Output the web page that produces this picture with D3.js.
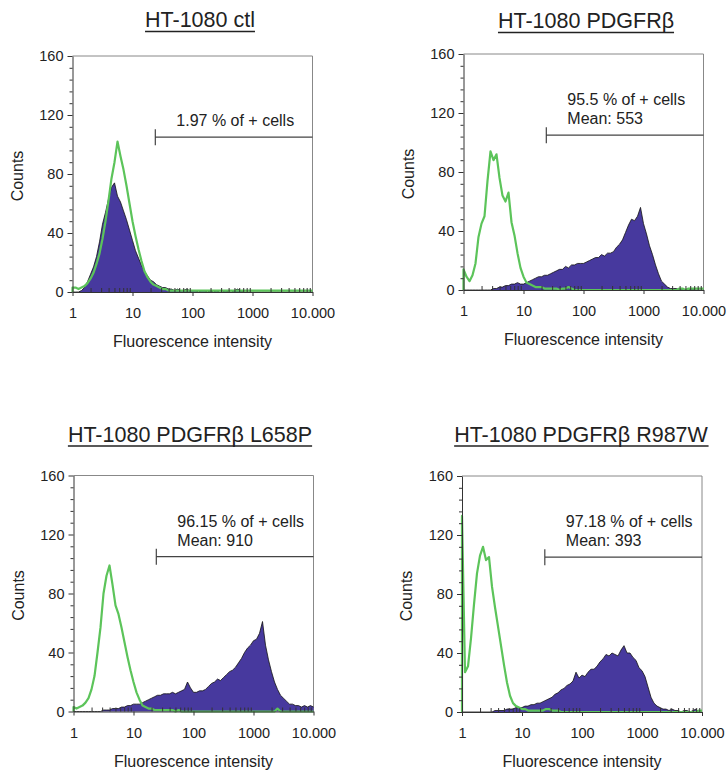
<!DOCTYPE html>
<html>
<head>
<meta charset="utf-8">
<script src="https://cdn.jsdelivr.net/npm/d3@7"></script>
<style>
  body { margin: 0; background: #fff; }
  svg { font-family: "Liberation Sans", Arial, sans-serif; }
</style>
</head>
<body>
<div class="chart"></div>
<script>
const svgWidth = 727
const svgHeight = 773

// histogram channels: log10 of the intensity, 0.05 apart (1 .. 10.000)
const logBins = d3.range(81).map(i => i * 0.05)

const xTicks = [1, 10, 100, 1000, 10000]
const xTickLabels = ["1", "10", "100", "1000", "10.000"]
const yTicks = [0, 40, 80, 120, 160]

const titles = ["HT-1080 ctl", "HT-1080 PDGFRβ", "HT-1080 PDGFRβ L658P", "HT-1080 PDGFRβ R987W"]
const percentLabels = ["1.97 % of + cells", "95.5 % of + cells", "96.15 % of + cells", "97.18 % of + cells"]
const meanLabels = [null, "Mean: 553", "Mean: 910", "Mean: 393"]

// marker gate: starts at intensity 24, drawn at 105 counts
const gateStart = 24
const gateCount = 105

// filled (stained) histograms
const ctlFill = [0, 0, 0, 1, 3, 7, 12, 17, 24, 34,
  46, 54, 63, 71, 74, 65, 61, 55, 49, 42,
  35, 28, 23, 18, 14, 11, 8, 7, 5, 4,
  3, 3, 2, 2, 1, 2, 1, 1, 2, 1,
  1, 1, 0, 1, 1, 0, 1, 0, 1, 0,
  0, 1, 0, 0, 1, 2, 1, 0, 0, 0,
  0, 0, 0, 0, 0, 0, 0, 0, 0, 0,
  0, 0, 0, 0, 0, 0, 0, 0, 0, 0,
  0]
const pdgfrFill = [0, 0, 0, 0, 0, 0, 0, 0, 0, 0,
  1, 1, 2, 2, 3, 3, 4, 4, 5, 4,
  4, 5, 6, 7, 8, 9, 9, 10, 10, 11,
  12, 13, 14, 14, 16, 15, 17, 17, 18, 18,
  18, 19, 20, 21, 22, 22, 24, 23, 25, 25,
  26, 29, 31, 34, 39, 44, 48, 47, 50, 56,
  45, 38, 30, 24, 17, 11, 6, 4, 2, 1,
  1, 1, 0, 1, 0, 0, 1, 0, 0, 0,
  0]
const l658pFill = [0, 0, 0, 0, 0, 0, 0, 0, 0, 0,
  1, 1, 1, 2, 2, 2, 3, 3, 4, 4,
  5, 5, 5, 6, 7, 8, 9, 10, 11, 11,
  12, 12, 12, 13, 12, 13, 14, 15, 20, 16,
  13, 13, 14, 14, 15, 17, 19, 20, 22, 21,
  23, 25, 27, 28, 30, 33, 36, 40, 43, 45,
  48, 49, 53, 61, 45, 35, 27, 20, 15, 11,
  9, 7, 5, 5, 4, 4, 3, 4, 3, 4,
  3]
const r987wFill = [0, 0, 0, 0, 0, 0, 0, 0, 0, 0,
  0, 1, 1, 1, 1, 2, 2, 2, 3, 3,
  3, 4, 4, 5, 5, 6, 6, 7, 8, 9,
  10, 12, 13, 15, 16, 18, 19, 21, 27, 23,
  25, 24, 27, 29, 29, 31, 34, 36, 39, 38,
  40, 39, 38, 42, 45, 40, 40, 37, 35, 30,
  28, 24, 17, 10, 6, 4, 3, 2, 2, 1,
  2, 1, 1, 0, 1, 1, 0, 1, 2, 0,
  0]

// isotype control (green outline) histograms
const ctlLine = [3, 3, 2, 3, 4, 6, 9, 13, 19, 26,
  36, 48, 62, 77, 88, 102, 92, 83, 72, 60,
  48, 38, 29, 21, 14, 10, 7, 5, 4, 3,
  2, 2, 1, 1, 1, 1, 1, 1, 1, 1,
  1, 1, 1, 1, 1, 1, 1, 1, 1, 1,
  1, 1, 1, 1, 1, 1, 1, 1, 1, 1,
  1, 1, 1, 1, 1, 1, 1, 1, 1, 1,
  1, 1, 1, 1, 1, 1, 1, 1, 1, 1,
  1]
const pdgfrLine = [14, 9, 6, 10, 18, 36, 45, 50, 74, 94,
  88, 92, 76, 64, 60, 66, 46, 37, 25, 15,
  9, 5, 4, 3, 2, 2, 2, 1, 1, 1,
  1, 1, 0, 1, 1, 2, 1, 0, 0, 0,
  0, 0, 0, 0, 0, 0, 0, 0, 0, 0,
  0, 0, 0, 0, 0, 0, 0, 0, 0, 0,
  0, 0, 0, 0, 0, 0, 0, 0, 0, 0,
  0, 0, 1, 1, 0, 1, 1, 1, 1, 1,
  1]
const l658pLine = [3, 2, 3, 4, 6, 9, 15, 24, 40, 57,
  80, 92, 99, 86, 72, 66, 57, 47, 37, 28,
  20, 13, 8, 4, 3, 2, 2, 1, 1, 1,
  1, 1, 1, 1, 0, 1, 0, 0, 0, 0,
  0, 0, 0, 0, 0, 0, 0, 0, 0, 0,
  0, 0, 0, 0, 0, 0, 0, 0, 0, 0,
  0, 0, 0, 0, 0, 0, 0, 0, 2, 0,
  0, 0, 0, 0, 0, 0, 0, 0, 0, 0,
  0]
const r987wLine = [133, 27, 31, 50, 73, 94, 106, 112, 103, 105,
  85, 71, 58, 45, 32, 20, 11, 6, 4, 3,
  2, 2, 1, 1, 1, 1, 1, 1, 2, 2,
  1, 1, 1, 0, 0, 0, 0, 0, 0, 0,
  0, 0, 0, 0, 0, 0, 0, 0, 0, 0,
  0, 0, 0, 0, 0, 0, 0, 0, 0, 0,
  0, 0, 0, 0, 0, 0, 0, 0, 0, 0,
  0, 0, 0, 0, 0, 0, 0, 0, 0, 1,
  1]

const fills = [ctlFill, pdgfrFill, l658pFill, r987wFill]
const lines = [ctlLine, pdgfrLine, l658pLine, r987wLine]

// where each panel's plot area sits, and its title
const layout = [
  { left: 72.5, top: 56, titleX: 200, titleY: 27 },
  { left: 463.5, top: 54, titleX: 586, titleY: 28 },
  { left: 73.5, top: 475.5, titleX: 190, titleY: 441.5 },
  { left: 462, top: 476, titleX: 581, titleY: 441.5 }
]

const width = 240
const height = 236

const fillColor = "#47399e"
const lineColor = "#5cc45a"
const textColor = "#222"

let svg = d3.select(".chart")
  .append("svg")
  .attr("width", svgWidth)
  .attr("height", svgHeight)

let x = d3.scaleLog().domain([1, 10000]).range([0, width])
let y = d3.scaleLinear().domain([0, 160]).range([height, 0])

let minorX = x.ticks().filter(d => !xTicks.includes(d))
let minorY = d3.range(0, 161, 8).filter(d => !yTicks.includes(d))

// every histogram trace rises from the baseline at the first channel
function toPoints(values) {
  let pts = values.map((v, i) => [10 ** logBins[i], v])
  pts.unshift([10 ** logBins[0], 0])
  return pts
}

let area = d3.area()
  .x(d => x(d[0]))
  .y0(y(0))
  .y1(d => y(d[1]))

let outline = d3.line()
  .x(d => x(d[0]))
  .y(d => y(d[1]))

layout.forEach((pos, k) => {
  // title, underlined
  let title = svg.append("text")
    .attr("x", pos.titleX)
    .attr("y", pos.titleY)
    .attr("text-anchor", "middle")
    .attr("font-size", 21.5)
    .attr("fill", textColor)
    .text(titles[k])
  let box = title.node().getBBox()
  svg.append("line")
    .attr("x1", box.x).attr("x2", box.x + box.width)
    .attr("y1", pos.titleY + 4.5).attr("y2", pos.titleY + 4.5)
    .attr("stroke", textColor)
    .attr("stroke-width", 1.5)

  let g = svg.append("g")
    .attr("transform", `translate(${pos.left}, ${pos.top})`)

  // frame on top and right
  g.append("path")
    .attr("d", `M0,0H${width}V${height}`)
    .attr("fill", "none")
    .attr("stroke", "#888")
    .attr("stroke-width", 1)

  // stained histogram
  let filled = toPoints(fills[k])
  g.append("path")
    .datum(filled)
    .attr("d", area)
    .attr("fill", fillColor)
  g.append("path")
    .datum(filled)
    .attr("d", outline)
    .attr("fill", "none")
    .attr("stroke", "#111")
    .attr("stroke-width", 0.8)

  // control histogram
  g.append("path")
    .datum(toPoints(lines[k]))
    .attr("d", outline)
    .attr("fill", "none")
    .attr("stroke", lineColor)
    .attr("stroke-width", 2.2)
    .attr("stroke-linejoin", "round")

  // axes
  g.append("g")
    .call(d3.axisLeft(y).tickValues(yTicks).tickSize(5).tickSizeOuter(0).tickPadding(4))
  g.append("g")
    .call(d3.axisLeft(y).tickValues(minorY).tickSize(3).tickFormat(""))
    .select(".domain").remove()

  g.append("g")
    .attr("transform", `translate(0, ${height})`)
    .call(d3.axisBottom(x).tickValues(xTicks).tickFormat((d, i) => xTickLabels[i])
      .tickSize(4).tickSizeOuter(0).tickPadding(12))
  g.append("g")
    .attr("transform", `translate(0, ${height})`)
    .call(d3.axisTop(x).tickValues(minorX).tickSize(4).tickFormat(""))
    .select(".domain").remove()

  g.selectAll(".domain, .tick line").attr("stroke", "#333")
  g.selectAll(".tick text")
    .attr("font-size", 14.5)
    .attr("fill", textColor)
    .attr("font-family", "Liberation Sans, Arial, sans-serif")

  // axis titles
  g.append("text")
    .attr("x", width / 2)
    .attr("y", height + 55)
    .attr("text-anchor", "middle")
    .attr("font-size", 16)
    .attr("fill", textColor)
    .text("Fluorescence intensity")
  g.append("text")
    .attr("transform", "rotate(-90)")
    .attr("x", -height / 2 - 2)
    .attr("y", -50)
    .attr("text-anchor", "middle")
    .attr("font-size", 16)
    .attr("fill", textColor)
    .text("Counts")

  // marker gate and its statistics
  let gy = y(gateCount)
  let gx = x(gateStart)
  g.append("path")
    .attr("d", `M${gx},${gy - 8}V${gy + 8}M${gx},${gy}H${width}`)
    .attr("fill", "none")
    .attr("stroke", "#444")
    .attr("stroke-width", 1.2)

  let lastLine = meanLabels[k] ? meanLabels[k] : percentLabels[k]
  let textX = gx + 21
  if (meanLabels[k]) {
    g.append("text")
      .attr("x", textX).attr("y", gy - 30)
      .attr("font-size", 16).attr("fill", textColor)
      .text(percentLabels[k])
  }
  g.append("text")
    .attr("x", textX).attr("y", gy - 11)
    .attr("font-size", 16).attr("fill", textColor)
    .text(lastLine)
})
</script>
</body>
</html>
